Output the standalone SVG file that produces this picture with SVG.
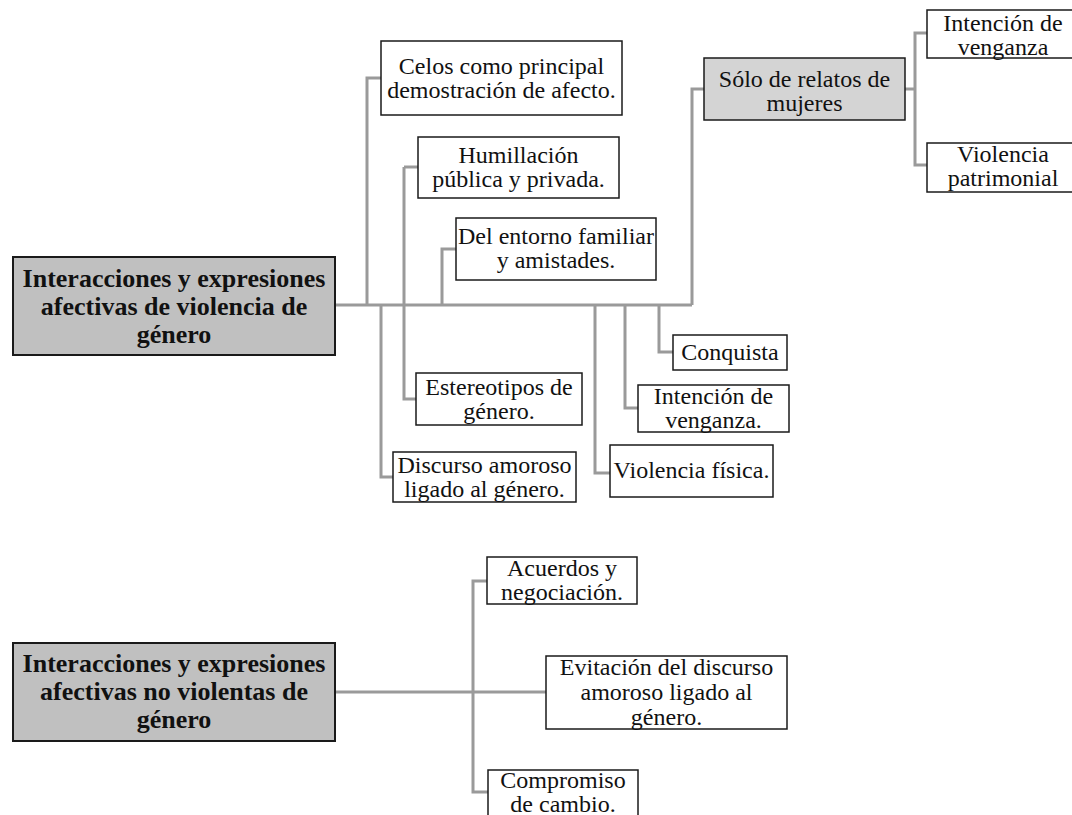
<svg xmlns="http://www.w3.org/2000/svg" width="1072" height="815" viewBox="0 0 1072 815">
<style>
  .bg{fill:#ffffff}
  .box{fill:#ffffff;stroke:#1a1a1a;stroke-width:1.5}
  .main{fill:#c0c0c0;stroke:#1a1a1a;stroke-width:2}
  .sub{fill:#d4d4d4;stroke:#1a1a1a;stroke-width:1.5}
  .t{font-family:"Liberation Serif","Times New Roman",serif;font-size:24px;fill:#111;text-anchor:middle}
  .tb{font-family:"Liberation Serif","Times New Roman",serif;font-size:26px;font-weight:bold;fill:#111;text-anchor:middle}
  .c{fill:none;stroke:#9a9a9a;stroke-width:3}
</style>
<rect class="bg" x="0" y="0" width="1072" height="815"/>
<g id="connectors">
  <path class="c" d="M335 305 H692"/>
  <path class="c" d="M367 305 V78 H381"/>
  <path class="c" d="M404 167 H418"/>
  <path class="c" d="M404 167 V399 H416"/>
  <path class="c" d="M442 305 V249 H456"/>
  <path class="c" d="M692 305 V89 H704"/>
  <path class="c" d="M381 305 V477 H393"/>
  <path class="c" d="M595 305 V473 H610"/>
  <path class="c" d="M625 305 V408 H638"/>
  <path class="c" d="M659 305 V352 H673"/>
  <path class="c" d="M905 89 H915"/>
  <path class="c" d="M927 33 H915 V165 H927"/>
  <path class="c" d="M335 692 H546"/>
  <path class="c" d="M487 581 H473 V792 H488"/>
</g>
<g id="n-main1">
  <rect class="main" x="13" y="257" width="322" height="98"/>
  <text class="tb" x="174" y="287">Interacciones y expresiones</text>
  <text class="tb" x="174" y="315">afectivas de violencia de</text>
  <text class="tb" x="174" y="343">género</text>
</g>
<g id="n-celos">
  <rect class="box" x="381" y="41" width="241" height="74"/>
  <text class="t" x="501.5" y="74">Celos como principal</text>
  <text class="t" x="501.5" y="98">demostración de afecto.</text>
</g>
<g id="n-humillacion">
  <rect class="box" x="418" y="137" width="201" height="61"/>
  <text class="t" x="518.5" y="163">Humillación</text>
  <text class="t" x="518.5" y="187">pública y privada.</text>
</g>
<g id="n-entorno">
  <rect class="box" x="456" y="218" width="200" height="62"/>
  <text class="t" x="556" y="244">Del entorno familiar</text>
  <text class="t" x="556" y="268">y amistades.</text>
</g>
<g id="n-estereotipos">
  <rect class="box" x="416" y="373" width="166" height="52"/>
  <text class="t" x="499" y="395">Estereotipos de</text>
  <text class="t" x="499" y="419">género.</text>
</g>
<g id="n-discurso">
  <rect class="box" x="393" y="452" width="183" height="50"/>
  <text class="t" x="484.5" y="473">Discurso amoroso</text>
  <text class="t" x="484.5" y="497">ligado al género.</text>
</g>
<g id="n-conquista">
  <rect class="box" x="673" y="335" width="114" height="35"/>
  <text class="t" x="730" y="360">Conquista</text>
</g>
<g id="n-venganza1">
  <rect class="box" x="638" y="385" width="151" height="47"/>
  <text class="t" x="713.5" y="404">Intención de</text>
  <text class="t" x="713.5" y="428">venganza.</text>
</g>
<g id="n-fisica">
  <rect class="box" x="610" y="445" width="163" height="52"/>
  <text class="t" x="691.5" y="478">Violencia física.</text>
</g>
<g id="n-solo">
  <rect class="sub" x="704" y="58" width="201" height="62"/>
  <text class="t" x="804.5" y="87">Sólo de relatos de</text>
  <text class="t" x="804.5" y="111">mujeres</text>
</g>
<g id="n-venganza2">
  <rect class="box" x="927" y="10" width="155" height="48"/>
  <text class="t" x="1003" y="31">Intención de</text>
  <text class="t" x="1003" y="55">venganza</text>
</g>
<g id="n-patrimonial">
  <rect class="box" x="927" y="143" width="155" height="49"/>
  <text class="t" x="1003" y="162">Violencia</text>
  <text class="t" x="1003" y="186">patrimonial</text>
</g>
<g id="n-main2">
  <rect class="main" x="13" y="643" width="322" height="98"/>
  <text class="tb" x="174" y="672">Interacciones y expresiones</text>
  <text class="tb" x="174" y="700">afectivas no violentas de</text>
  <text class="tb" x="174" y="728">género</text>
</g>
<g id="n-acuerdos">
  <rect class="box" x="487" y="557" width="150" height="47"/>
  <text class="t" x="562" y="576">Acuerdos y</text>
  <text class="t" x="562" y="600">negociación.</text>
</g>
<g id="n-evitacion">
  <rect class="box" x="546" y="656" width="241" height="73"/>
  <text class="t" x="666.5" y="675">Evitación del discurso</text>
  <text class="t" x="666.5" y="700">amoroso ligado al</text>
  <text class="t" x="666.5" y="725">género.</text>
</g>
<g id="n-compromiso">
  <rect class="box" x="488" y="770" width="150" height="60"/>
  <text class="t" x="563" y="788">Compromiso</text>
  <text class="t" x="563" y="812">de cambio.</text>
</g>
</svg>
